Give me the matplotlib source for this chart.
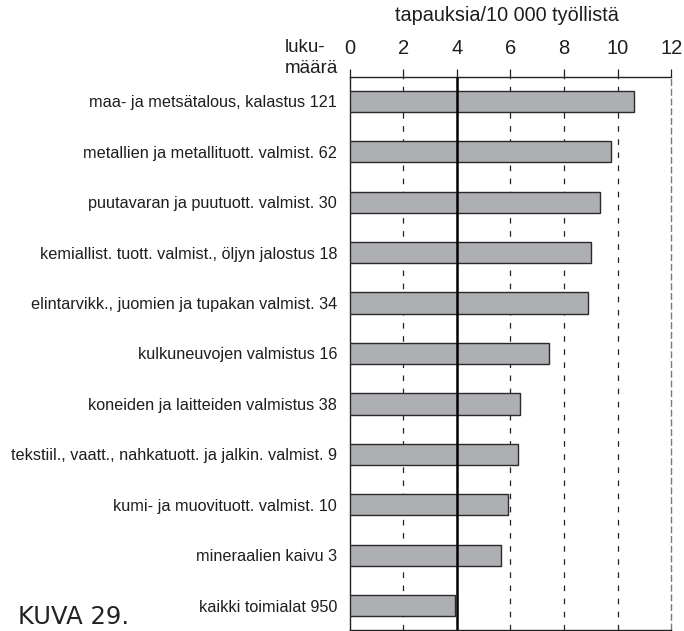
import matplotlib
matplotlib.use("Agg")
import matplotlib.pyplot as plt
import numpy as np

categories = [
    "maa- ja metsätalous, kalastus 121",
    "metallien ja metallituott. valmist. 62",
    "puutavaran ja puutuott. valmist. 30",
    "kemiallist. tuott. valmist., öljyn jalostus 18",
    "elintarvikk., juomien ja tupakan valmist. 34",
    "kulkuneuvojen valmistus 16",
    "koneiden ja laitteiden valmistus 38",
    "tekstiil., vaatt., nahkatuott. ja jalkin. valmist. 9",
    "kumi- ja muovituott. valmist. 10",
    "mineraalien kaivu 3",
    "kaikki toimialat 950",
]
values = [10.61, 9.76, 9.35, 9.01, 8.90, 7.42, 6.34, 6.28, 5.92, 5.63, 3.95]
xticks = [0, 2, 4, 6, 8, 10, 12]
reference = 4

plt.rcParams['font.family'] = ['Liberation Sans', 'DejaVu Sans']
txt = '#1e1e1e'

fig = plt.figure(figsize=(6.84, 6.31), dpi=100)
ax = fig.add_axes([0.511, 0.0016, 0.4705, 0.8764])

y = np.arange(len(categories))
ax.barh(y, values, height=0.42, color='#adafb2', edgecolor='#2a2a2a', linewidth=1.0, zorder=3)

for t in [2, 6, 8, 10]:
    ax.axvline(t, color='#222222', linewidth=0.9, linestyle=(0, (4.5, 6)), zorder=1)
ax.axvline(12, color='#7a7a7a', linewidth=1.0, linestyle=(0, (5, 2)), zorder=1, clip_on=False)
ax.axvline(reference, color='black', linewidth=1.8, zorder=4)

ax.set_xlim(0, 12)
ax.set_ylim(len(categories) - 0.52, -0.48)
ax.set_yticks(y)
ax.set_yticklabels(categories, fontsize=11.7, color=txt)
ax.tick_params(axis='y', length=0, pad=9)

ax.xaxis.tick_top()
ax.set_xticks(xticks)
ax.set_xticklabels([str(t) for t in xticks], fontsize=14.5, color=txt)
ax.tick_params(axis='x', direction='out', length=6, width=0.9, pad=8, color='#222222')

for s in ['top', 'left', 'bottom']:
    ax.spines[s].set_linewidth(1.0)
    ax.spines[s].set_color('#222222')
ax.spines['right'].set_visible(False)

fig.text(0.7405, 0.975, "tapauksia/10 000 työllistä", ha='center', va='center',
         fontsize=14.3, color=txt)
fig.text(0.4167, 0.925, "luku-", ha='left', va='center', fontsize=13.5, color=txt)
fig.text(0.4167, 0.892, "määrä", ha='left', va='center', fontsize=13.5, color=txt)
fig.text(0.026, 0.003, "KUVA 29.", ha='left', va='bottom', fontsize=17.5,
         family=['DejaVu Sans'], color='#222222')

fig.savefig("out.png", dpi=100)
